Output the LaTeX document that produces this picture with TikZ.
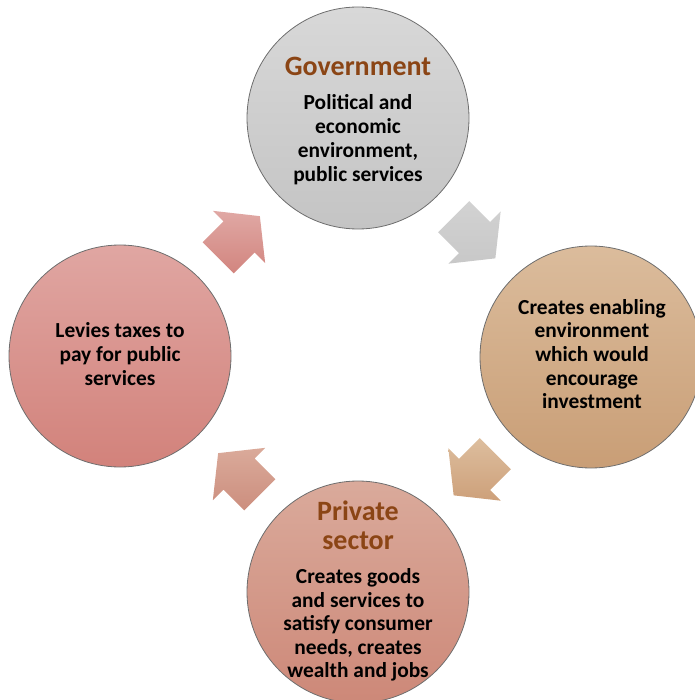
\documentclass[tikz,border=0pt]{standalone}
\usepackage{fontspec}
\setmainfont{Carlito}
\usetikzlibrary{calc}

\definecolor{titlebrown}{HTML}{8B4515}
\definecolor{rimgray}{HTML}{6E6E6E}

\tikzset{
  stage/.style={circle, draw=rimgray, line width=0.8pt, minimum size=222pt, inner sep=0pt},
  bodytext/.style={align=center, font=\fontsize{21.4}{23.6}\selectfont\bfseries, text=black},
  titletext/.style={align=center, font=\fontsize{28}{29}\selectfont\bfseries, text=titlebrown},
  flowarrow/.style={draw=none},
}

% block arrow: tail at -29.5, barb line at 0, tip at +29.5 along its axis
% (the y axis points down, so angles turn clockwise on the page)
\newcommand{\blockarrow}[4]{% #1 centre, #2 angle, #3 top colour, #4 bottom colour
  \shade[flowarrow, top color=#3, bottom color=#4]
    ($(#1)+(#2:29.5)$) --
    ($(#1)+(#2+90:37)$) --
    ($(#1)+(#2+90:22)$) --
    ($(#1)+(#2:-29.5)+(#2+90:22)$) --
    ($(#1)+(#2:-29.5)+(#2-90:22)$) --
    ($(#1)+(#2-90:22)$) --
    ($(#1)+(#2-90:37)$) -- cycle;
}

\begin{document}
\begin{tikzpicture}[x=1pt, y=-1pt]
  \useasboundingbox (0,0) rectangle (694,700);

  % the four stages of the cycle
  \node[stage, top color={rgb,255:red,216;green,216;blue,216}, bottom color={rgb,255:red,196;green,196;blue,196}] (gov) at (358,118) {};
  \node[stage, top color={rgb,255:red,219;green,188;blue,156}, bottom color={rgb,255:red,201;green,158;blue,118}] (env) at (591,357) {};
  \node[stage, top color={rgb,255:red,218;green,170;blue,155}, bottom color={rgb,255:red,205;green,136;blue,120}] (priv) at (358,592) {};
  \node[stage, top color={rgb,255:red,224;green,166;blue,162}, bottom color={rgb,255:red,210;green,130;blue,123}] (tax) at (120,356) {};

  % texts
  \node[titletext] (govtitle) at (358,66) {Government};
  \node[bodytext, font=\fontsize{21.4}{24}\selectfont\bfseries] (govbody) at (358,140) {Political and\\economic\\environment,\\public services};

  \node[bodytext] (envbody) at (592,354) {Creates enabling\\environment\\which would\\encourage\\investment};

  \node[titletext] (privtitle) at (358,525.5) {Private\\sector};
  \node[bodytext] (privbody) at (358,625) {Creates goods\\and services to\\satisfy consumer\\needs, creates\\wealth and jobs};

  \node[bodytext] (taxbody) at (120,354) {Levies taxes to\\pay for public\\services};

  % arrows between the stages
  \coordinate (a1) at ($(gov)!0.5!(env)$);
  \coordinate (a2) at ($(env)!0.5!(priv)$);
  \coordinate (a3) at ($(priv)!0.5!(tax)$);
  \coordinate (a4) at ($(tax)!0.5!(gov)$);

  \blockarrow{a1}{45}{{rgb,255:red,210;green,210;blue,210}}{{rgb,255:red,200;green,200;blue,200}}
  \blockarrow{a2}{135}{{rgb,255:red,221;green,190;blue,158}}{{rgb,255:red,205;green,160;blue,122}}
  \blockarrow{a3}{-135}{{rgb,255:red,218;green,170;blue,154}}{{rgb,255:red,204;green,142;blue,126}}
  \blockarrow{a4}{-45}{{rgb,255:red,224;green,168;blue,164}}{{rgb,255:red,210;green,133;blue,127}}
\end{tikzpicture}
\end{document}
